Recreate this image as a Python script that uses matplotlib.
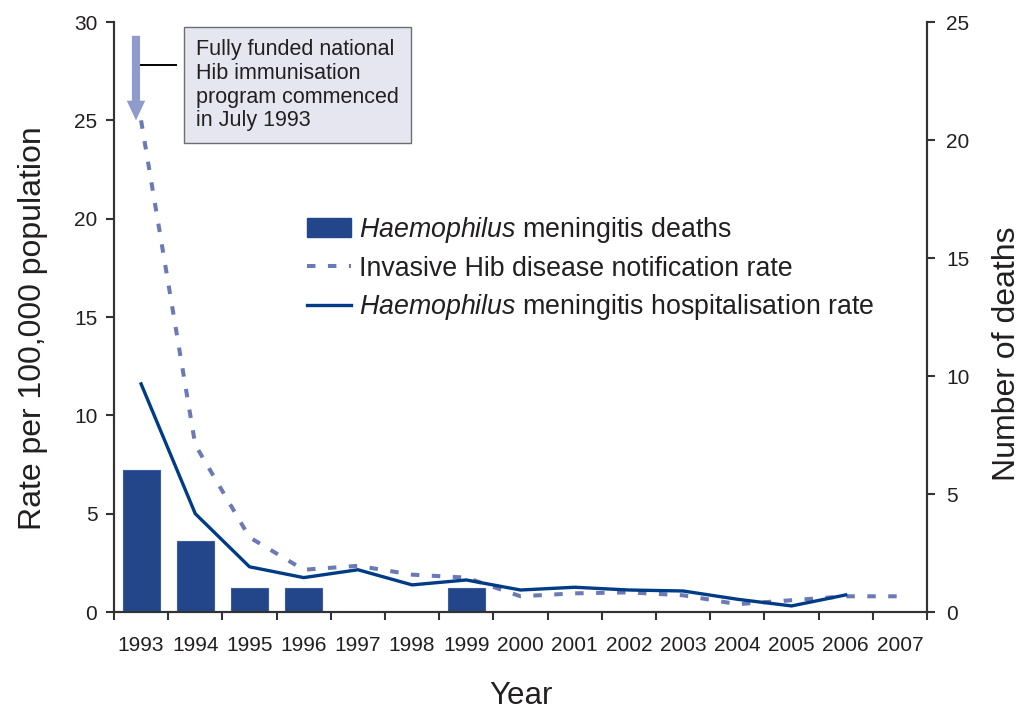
import numpy as np
import matplotlib
matplotlib.use("Agg")
import matplotlib.pyplot as plt
from matplotlib.lines import Line2D
from matplotlib.patches import Patch

plt.rcParams['font.family'] = ['Liberation Sans', 'DejaVu Sans']
plt.rcParams['mathtext.fontset'] = 'custom'
plt.rcParams['mathtext.it'] = 'Liberation Sans:italic'
plt.rcParams['mathtext.rm'] = 'Liberation Sans'

# data
years = ['1993', '1994', '1995', '1996', '1997', '1998', '1999', '2000',
         '2001', '2002', '2003', '2004', '2005', '2006', '2007']
deaths = [6, 3, 1, 1, 0, 0, 1, 0, 0, 0, 0, 0, 0, 0, 0]
notif_rate = [25.0, 8.5, 3.8, 2.15, 2.35, 1.9, 1.75, 0.8, 0.95, 1.0, 0.85,
              0.4, 0.6, 0.8, 0.8]
hosp_rate = [11.6, 5.0, 2.3, 1.75, 2.15, 1.38, 1.63, 1.12, 1.26, 1.12, 1.07,
             0.65, 0.31, 0.87]

bar_col = '#234589'
hosp_col = '#003B85'
notif_col = '#6B79B5'
arrow_col = '#8E9BCB'
txt_col = '#231F20'
spine_col = '#333333'
dash = (0, (2.1, 3.1))

fig = plt.figure(figsize=(10.24, 7.11), dpi=100)
ax = fig.add_axes([0.1113, 0.1392, 0.7940, 0.8298])
ax2 = ax.twinx()
ax.set_zorder(ax2.get_zorder() + 1)
ax.patch.set_visible(False)

x = np.arange(len(years))

# bars on the right (deaths) axis
ax2.bar(x, deaths, width=0.68, color=bar_col, edgecolor='#3A5C9E', linewidth=0.8)
ax2.set_ylim(0, 25)
ax2.set_yticks(range(0, 26, 5))

# rate lines on the left axis
ax.plot(x, notif_rate, color=notif_col, lw=2.9, linestyle=dash)
ax.plot(x[:len(hosp_rate)], hosp_rate, color=hosp_col, lw=2.4)
ax.set_ylim(0, 30)
ax.set_yticks(range(0, 31, 5))
ax.set_xlim(-0.5, len(years) - 0.5)

# ticks at category boundaries, labels at centres
ax.set_xticks(np.arange(-0.5, len(years), 1.0))
ax.set_xticklabels([])
ax.set_xticks(x, minor=True)
ax.set_xticklabels(years, minor=True)
ax.tick_params(axis='x', which='major', direction='out', length=6, width=1.5,
               color=spine_col)
ax.tick_params(axis='x', which='minor', length=0, pad=17, labelsize=15,
               labelcolor=txt_col)
ax.tick_params(axis='y', direction='out', length=6, width=1.5, color=spine_col,
               labelsize=15, labelcolor=txt_col, pad=6)
ax2.tick_params(axis='y', direction='out', length=6, width=1.5, color=spine_col,
                labelsize=15, labelcolor=txt_col, pad=8)

for a in (ax, ax2):
    a.spines['top'].set_visible(False)
    for s in ('left', 'right', 'bottom'):
        a.spines[s].set_color(spine_col)
        a.spines[s].set_linewidth(1.5)

ax.set_xlabel('Year', fontsize=22.5, color=txt_col, labelpad=19)
ax.set_ylabel('Rate per 100,000 population', fontsize=23, color=txt_col, labelpad=19)
ax2.set_ylabel('Number of deaths', fontsize=23, color=txt_col, labelpad=16)
ax.yaxis.label.set_y(0.482)
ax2.yaxis.label.set_y(0.437)

# annotation: arrow, leader line, text box
ax.arrow(-0.094, 29.3, 0, -4.3, width=0.15, head_width=0.34, head_length=1.0,
         length_includes_head=True, color=arrow_col, lw=0, zorder=5)
ax.plot([-0.02, 0.64], [27.8, 27.8], color='black', lw=1.4)
ax.text(0.101, 0.971, 'Fully funded national\nHib immunisation\nprogram commenced\nin July 1993',
        transform=ax.transAxes, ha='left', va='top', fontsize=15.5, color=txt_col,
        linespacing=1.17,
        bbox=dict(boxstyle='square,pad=0.55', facecolor='#E6E6F0',
                  edgecolor='#6D6E71', linewidth=1.0))

handles = [Patch(facecolor=bar_col, edgecolor=bar_col),
           Line2D([], [], color=notif_col, lw=2.9, linestyle=dash),
           Line2D([], [], color=hosp_col, lw=2.4)]
labels = [r'$\it{Haemophilus}$ meningitis deaths',
          'Invasive Hib disease notification rate',
          r'$\it{Haemophilus}$ meningitis hospitalisation rate']
leg = ax.legend(handles, labels, loc='upper left', bbox_to_anchor=(0.237, 0.673),
                frameon=False, fontsize=19.3, handlelength=1.65, handletextpad=0.3,
                labelspacing=0.4, borderaxespad=0, borderpad=0)
for t in leg.get_texts():
    t.set_color(txt_col)

fig.savefig('out.png', dpi=100)
